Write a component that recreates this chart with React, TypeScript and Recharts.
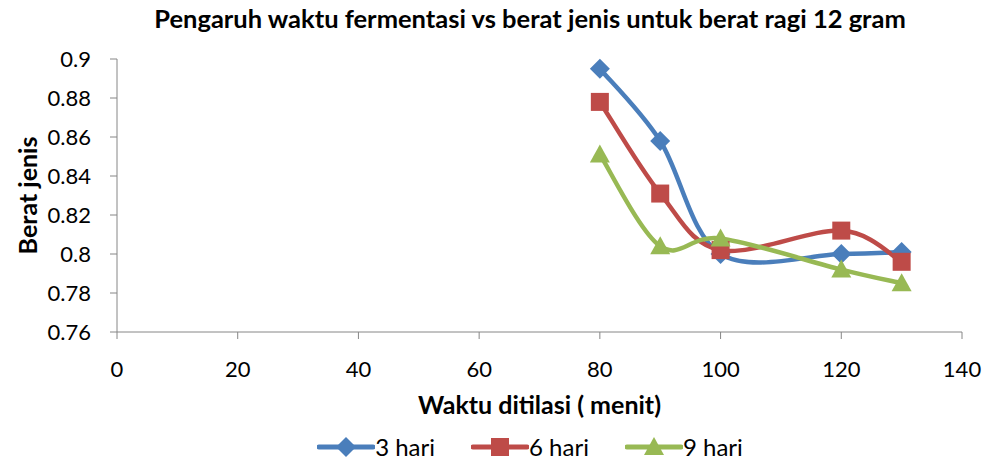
import { LineChart, Line, XAxis, YAxis } from 'recharts';

// minutes of distillation
const waktu = [80, 90, 100, 120, 130];
// berat jenis per fermentation time
const hari3 = [0.895, 0.858, 0.8, 0.8, 0.801];
const hari6 = [0.878, 0.831, 0.802, 0.812, 0.796];
const hari9 = [0.851, 0.804, 0.808, 0.792, 0.785];

const xTicks = [0, 20, 40, 60, 80, 100, 120, 140];
const yTicks = [0.76, 0.78, 0.8, 0.82, 0.84, 0.86, 0.88, 0.9];

const seriesInfo = [
  { key: 'h3', name: '3 hari', color: '#4A7EBB', shape: 'diamond' },
  { key: 'h6', name: '6 hari', color: '#BE4B48', shape: 'square' },
  { key: 'h9', name: '9 hari', color: '#98B954', shape: 'triangle' },
];

const data = waktu.map((w, i) => ({ w, h3: hari3[i], h6: hari6[i], h9: hari9[i] }));

const FONT = 'Lato, "Open Sans", sans-serif';
const AXIS = '#868686';

// excel-ish smoothed line (catmull-rom through the points)
function excelCurve(context: any) {
  let pts: number[][] = [];
  return {
    areaStart() {},
    areaEnd() {},
    lineStart() { pts = []; },
    point(x: number, y: number) { pts.push([+x, +y]); },
    lineEnd() {
      if (!pts.length) return;
      context.moveTo(pts[0][0], pts[0][1]);
      for (let i = 0; i < pts.length - 1; i++) {
        const p0 = pts[i - 1] || pts[i];
        const p1 = pts[i];
        const p2 = pts[i + 1];
        const p3 = pts[i + 2] || p2;
        const c1x = p1[0] + (p2[0] - p0[0]) / 6;
        const c1y = p1[1] + (p2[1] - p0[1]) / 6;
        const c2x = p2[0] - (p3[0] - p1[0]) / 6;
        const c2y = p2[1] - (p3[1] - p1[1]) / 6;
        context.bezierCurveTo(c1x, c1y, c2x, c2y, p2[0], p2[1]);
      }
    },
  };
}

function Marker({ cx, cy, shape, color }: any) {
  if (cx == null || cy == null) return null;
  if (shape === 'diamond') {
    const r = 10;
    return <path d={`M${cx},${cy - r}L${cx + r},${cy}L${cx},${cy + r}L${cx - r},${cy}Z`} fill={color} />;
  }
  if (shape === 'square') {
    const r = 9;
    return <rect x={cx - r} y={cy - r} width={r * 2} height={r * 2} fill={color} />;
  }
  const r = 10;
  return <path d={`M${cx},${cy - r}L${cx + r},${cy + 8}L${cx - r},${cy + 8}Z`} fill={color} />;
}

function LegendBox() {
  return (
    <div style={{ position: 'absolute', top: 434, left: 0, width: 1060, display: 'flex', justifyContent: 'center', gap: 36, fontFamily: FONT, fontSize: 24, lineHeight: '26px', color: '#000' }}>
      {seriesInfo.map((s) => (
        <div key={s.key} style={{ display: 'flex', alignItems: 'center' }}>
          <svg width={58} height={24}>
            <line x1={2} y1={12} x2={56} y2={12} stroke={s.color} strokeWidth={5} strokeLinecap="round" />
            <Marker cx={29} cy={12} shape={s.shape} color={s.color} />
          </svg>
          <span>{s.name}</span>
        </div>
      ))}
    </div>
  );
}

export default function App() {
  return (
    <div style={{ position: 'absolute', left: 0, top: 0, width: 986, height: 466, background: '#fff', overflow: 'hidden' }}>
      <div style={{ position: 'absolute', top: 2, left: 0, width: 1060, textAlign: 'center', fontFamily: FONT, fontWeight: 'bold', fontSize: 25.5, lineHeight: '32px', color: '#000' }}>
        Pengaruh waktu fermentasi vs berat jenis untuk berat ragi 12 gram
      </div>
      <LineChart width={986} height={466} data={data} margin={{ top: 59, right: 24, bottom: 0, left: 57 }}>
        <XAxis
          dataKey="w"
          type="number"
          domain={[0, 140]}
          ticks={xTicks}
          tickSize={7}
          tickMargin={22}
          height={134}
          stroke={AXIS}
          tick={{ fill: '#000', fontSize: 22, fontFamily: FONT }}
          label={{ value: 'Waktu ditilasi ( menit)', position: 'insideTop', offset: 64, fill: '#000', fontSize: 25, fontWeight: 'bold', fontFamily: FONT }}
        />
        <YAxis
          type="number"
          domain={[0.76, 0.9]}
          ticks={yTicks}
          width={60}
          tickSize={7}
          tickMargin={19}
          stroke={AXIS}
          tick={{ fill: '#000', fontSize: 22, fontFamily: FONT }}
          label={{ value: 'Berat jenis', angle: -90, position: 'insideLeft', offset: -29, fill: '#000', fontSize: 25, fontWeight: 'bold', fontFamily: FONT, style: { textAnchor: 'middle' } }}
        />
        {seriesInfo.map((s) => (
          <Line
            key={s.key}
            dataKey={s.key}
            name={s.name}
            type={excelCurve as any}
            stroke={s.color}
            strokeWidth={4.5}
            isAnimationActive={false}
            dot={(p: any) => <Marker key={`${s.key}-${p.index}`} cx={p.cx} cy={p.cy} shape={s.shape} color={s.color} />}
            activeDot={false}
          />
        ))}
      </LineChart>
      <LegendBox />
    </div>
  );
}
